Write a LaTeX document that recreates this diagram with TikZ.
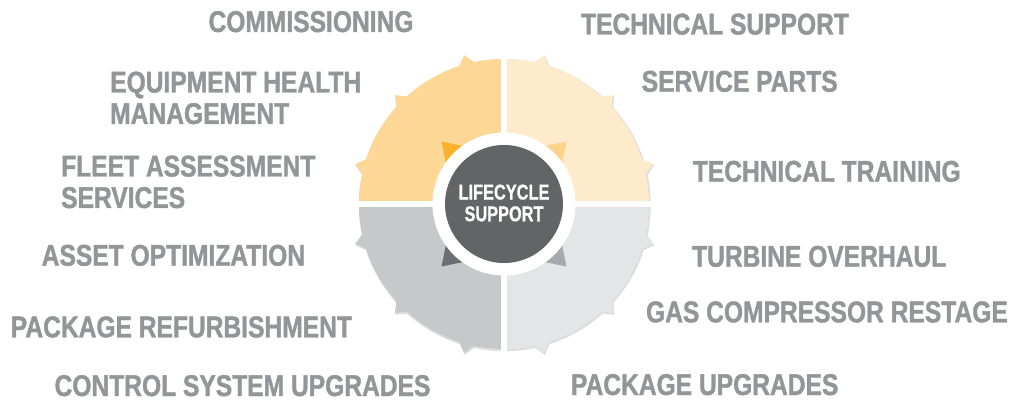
\documentclass[tikz,border=0pt]{standalone}
\usepackage{fontspec}
\newfontfamily\lblfont{Liberation Sans}[FakeStretch=0.82,FakeBold=1.3]
\newfontfamily\ctrfont{Liberation Sans}[FakeStretch=0.76,FakeBold=0.8]
\definecolor{txtgray}{HTML}{939598}
\definecolor{qTL}{HTML}{FDD796}
\definecolor{qTR}{HTML}{FEEBCC}
\definecolor{qBL}{HTML}{C7C8CA}
\definecolor{qBR}{HTML}{E4E5E6}
\definecolor{cTL}{HTML}{FBB32F}
\definecolor{cTR}{HTML}{FDD38C}
\definecolor{cBL}{HTML}{6D6E71}
\definecolor{cBR}{HTML}{A7A9AC}
\definecolor{hubgray}{HTML}{636466}
\begin{document}
\begin{tikzpicture}[x=1pt,y=1pt,
  lbl/.style={font=\lblfont\bfseries\fontsize{30}{31.5}\selectfont, text=txtgray, inner sep=0pt, align=left},
  ctrtxt/.style={font=\ctrfont\bfseries\fontsize{21.5}{21.7}\selectfont, text=white, inner sep=0pt, align=center}]
\useasboundingbox (0,0) rectangle (1011,402);
\begin{scope}[shift={(504,198)}]
  % soft shadow
  \begin{scope}[shift={(0.8,-1.2)}]
    \fill[black!13] (0,0) circle (146);
    \foreach \a in {15,45,...,345}
      \fill[black!13] (\a-3.3:145) -- (\a:155) -- (\a+3.3:145) -- cycle;
  \end{scope}
  % quadrants
  \fill[qTR] (0,0) -- (0:145) arc (0:90:145) -- cycle;
  \fill[qTL] (0,0) -- (90:145) arc (90:180:145) -- cycle;
  \fill[qBL] (0,0) -- (180:145) arc (180:270:145) -- cycle;
  \fill[qBR] (0,0) -- (270:145) arc (270:360:145) -- cycle;
  \foreach \a in {15,45,75}
    \fill[qTR] (\a-3.3:144) -- (\a:154) -- (\a+3.3:144) -- cycle;
  \foreach \a in {105,135,165}
    \fill[qTL] (\a-3.3:144) -- (\a:154) -- (\a+3.3:144) -- cycle;
  \foreach \a in {195,225,255}
    \fill[qBL] (\a-3.3:144) -- (\a:154) -- (\a+3.3:144) -- cycle;
  \foreach \a in {285,315,345}
    \fill[qBR] (\a-3.3:144) -- (\a:154) -- (\a+3.3:144) -- cycle;
  % white gaps
  \draw[white, line width=6pt] (0,162) -- (0,-162);
  \draw[white, line width=6pt] (-162,0) -- (162,0);
  % concave star corners
  \fill[cTL] (0,0) -- (0,54) .. controls (-31,56) .. (-62.5,62.5) .. controls (-56,31) .. (-54,0) -- cycle;
  \fill[cTR] (0,0) -- (0,54) .. controls (31,56) .. (62.5,62.5) .. controls (56,31) .. (54,0) -- cycle;
  \fill[cBL] (0,0) -- (0,-54) .. controls (-31,-56) .. (-62.5,-62.5) .. controls (-56,-31) .. (-54,0) -- cycle;
  \fill[cBR] (0,0) -- (0,-54) .. controls (31,-56) .. (62.5,-62.5) .. controls (56,-31) .. (54,0) -- cycle;
  % hub
  \fill[white] (0,0) circle (71.5);
  \node[circle, fill=hubgray, minimum size=118pt, inner sep=0pt] (hub) at (0,0) {};
  \node[ctrtxt] (hubtxt) at (0,1) {LIFECYCLE\\SUPPORT};
\end{scope}
% labels left
\node[lbl, anchor=base] (comm) at (311,370) {COMMISSIONING};
\node[lbl, anchor=base west] (ehm) at (110,278) {EQUIPMENT HEALTH\\MANAGEMENT};
\node[lbl, anchor=base west] (fas) at (61,194) {FLEET ASSESSMENT\\SERVICES};
\node[lbl, anchor=base] (ao) at (173.4,136.3) {ASSET OPTIMIZATION};
\node[lbl, anchor=base] (pr) at (181.4,64.7) {PACKAGE REFURBISHMENT};
\node[lbl, anchor=base] (csu) at (242.5,6) {CONTROL SYSTEM UPGRADES};
% labels right
\node[lbl, anchor=base] (ts) at (715,367.5) {TECHNICAL SUPPORT};
\node[lbl, anchor=base] (sp) at (739.7,310.3) {SERVICE PARTS};
\node[lbl, anchor=base] (tt) at (826.7,220.3) {TECHNICAL TRAINING};
\node[lbl, anchor=base] (to) at (819.2,135.3) {TURBINE OVERHAUL};
\node[lbl, anchor=base east] (gcr) at (1008,79.7) {GAS COMPRESSOR RESTAGE};
\node[lbl, anchor=base] (pu) at (704.7,7) {PACKAGE UPGRADES};
\end{tikzpicture}
\end{document}
